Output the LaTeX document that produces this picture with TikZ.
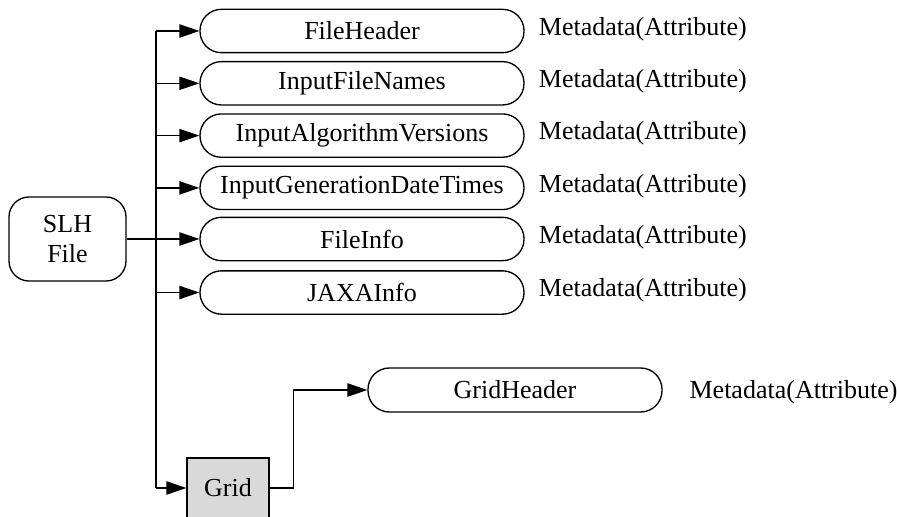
\documentclass[tikz,border=0pt]{standalone}
\usepackage{fontspec}
\setmainfont{Liberation Serif}
\usetikzlibrary{arrows.meta}
\begin{document}
\begin{tikzpicture}[x=0.75pt,y=-0.75pt,
  every node/.style={font=\fontsize{19.5}{23}\selectfont},
  pill/.style={draw,line width=1pt,rounded corners=16pt,minimum width=243pt,minimum height=32.5pt,inner sep=0pt},
  gpill/.style={pill,minimum width=220.5pt,minimum height=33pt},
  startbox/.style={draw,line width=1pt,rounded corners=15pt,minimum width=87.75pt,minimum height=63pt,align=center,inner sep=0pt},
  gridbox/.style={draw,line width=1pt,fill=black!15,minimum width=61.5pt,minimum height=45pt,inner sep=0pt},
  meta/.style={anchor=west,inner sep=0pt},
  conn/.style={line width=1pt},
  arr/.style={conn,-{Triangle[length=15pt,width=10pt]}}]
\useasboundingbox (0,0) rectangle (897,517);
\begin{scope}
\clip (0,0) rectangle (897,517);
\node[startbox] (slh) at (67.5,239) {SLH\\File};
\node[pill] (n1) at (362,31) {FileHeader};
\node[pill] (n2) at (362,83.3) {InputFileNames};
\node[pill] (n3) at (362,135.6) {InputAlgorithmVersions};
\node[pill] (n4) at (362,187.9) {InputGenerationDateTimes};
\node[pill] (n5) at (362,239) {FileInfo};
\node[pill] (n6) at (362,292.5) {JAXAInfo};
\node[gpill] (gh) at (515,390) {GridHeader};
\node[gridbox] (grid) at (228,488) {Grid};
\foreach \i in {1,...,6}{
  \node[meta] (m\i) at ([xshift=10.5pt,yshift=1.5pt]n\i.east) {Metadata(Attribute)};
}
\node[meta] (mg) at ([xshift=20pt,yshift=-1.5pt]gh.east) {Metadata(Attribute)};
\coordinate (trunk) at (156,0);
\draw[conn,line width=1.5pt] (slh.east) -- (trunk |- slh.east);
\draw[conn] (trunk |- n1.west) -- (trunk |- grid.west);
\foreach \i in {1,...,6}{
  \draw[arr] (trunk |- n\i.west) -- (n\i.west);
}
\draw[arr] (trunk |- grid.west) -- (grid.west);
\draw[arr] (grid.east) -- ++(24,0) |- (gh.west);
\end{scope}
\end{tikzpicture}
\end{document}
